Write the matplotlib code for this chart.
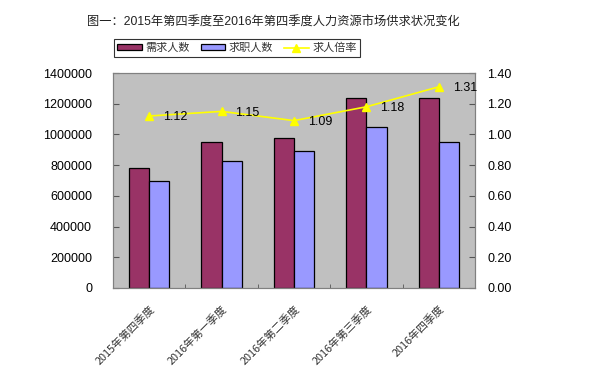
import numpy as np
import matplotlib
matplotlib.use('Agg')
import matplotlib.pyplot as plt

plt.rcParams['font.family'] = ['Liberation Sans', 'Noto Sans CJK SC', 'DejaVu Sans']

# Datos
quarters = ['2015年第四季度', '2016年第一季度', '2016年第二季度', '2016年第三季度', '2016年四季度']
demand = [780000, 950000, 975000, 1240000, 1240000]
supply = [700000, 830000, 895000, 1050000, 950000]
ratio = [1.12, 1.15, 1.09, 1.18, 1.31]

x = np.arange(len(quarters))
w = 0.28

fig = plt.figure(figsize=(6.07, 3.76), dpi=100)
ax = fig.add_axes([113 / 607, 1 - 288 / 376, 362 / 607, 215 / 376])
ax.set_facecolor('#C0C0C0')

b1 = ax.bar(x - w / 2, demand, w, color='#993366', edgecolor='black', linewidth=0.9, label='需求人数', zorder=2)
b2 = ax.bar(x + w / 2, supply, w, color='#9999FF', edgecolor='black', linewidth=0.9, label='求职人数', zorder=2)

ax.set_xlim(-0.5, len(quarters) - 0.5)
ax.set_ylim(0, 1400000)
ax.set_yticks(np.arange(0, 1400001, 200000))
ax.set_yticklabels([str(v) for v in range(0, 1400001, 200000)], fontsize=9)
ax.set_xticks(x)
ax.set_xticklabels(quarters, rotation=45, ha='right', va='top', fontsize=7.8,
                   family=['Noto Sans CJK SC', 'DejaVu Sans'], color='#333333',
                   rotation_mode='anchor')
ax.tick_params(axis='x', length=0, pad=11)
ax.set_xticks(np.arange(-0.5, len(quarters), 1), minor=True)
ax.tick_params(axis='x', which='minor', direction='in', length=3, color='#555555')
ax.tick_params(axis='y', direction='in', length=4, color='#555555', pad=15)
for s in ax.spines.values():
    s.set_color('#808080')

ax2 = ax.twinx()
ln, = ax2.plot(x, ratio, color='#FFFF00', marker='^', markersize=5.5, linewidth=1.2, label='求人倍率', zorder=3)
ax2.set_ylim(0, 1.4)
ax2.set_yticks(np.arange(0, 1.41, 0.2))
ax2.set_yticklabels(['%.2f' % v for v in np.arange(0, 1.41, 0.2)], fontsize=9)
ax2.tick_params(axis='y', direction='in', length=4, color='#555555', pad=9)
for s in ax2.spines.values():
    s.set_color('#808080')

for xi, r in zip(x, ratio):
    ax2.annotate('%.2f' % r, (xi, r), xytext=(10, -1), textcoords='offset points',
                 ha='left', va='center', fontsize=9)

fig.text(273 / 607, 1 - 23 / 376, '图一：2015年第四季度至2016年第四季度人力资源市场供求状况变化',
         ha='center', va='center', fontsize=8.8, color='#222222',
         family=['Liberation Sans', 'Noto Sans CJK SC'])

leg = fig.legend(handles=[b1, b2, ln], loc='center', bbox_to_anchor=(237 / 607, 1 - 48 / 376),
                 ncol=3, frameon=True, fancybox=False, edgecolor='black',
                 handlelength=2.2, handleheight=0.5, columnspacing=1.0, borderpad=0.35,
                 handletextpad=0.3, prop={'family': ['Noto Sans CJK SC'], 'size': 8})
leg.get_frame().set_linewidth(0.8)
for t in leg.get_texts():
    t.set_color('#333333')

fig.savefig('out.png', dpi=100)
